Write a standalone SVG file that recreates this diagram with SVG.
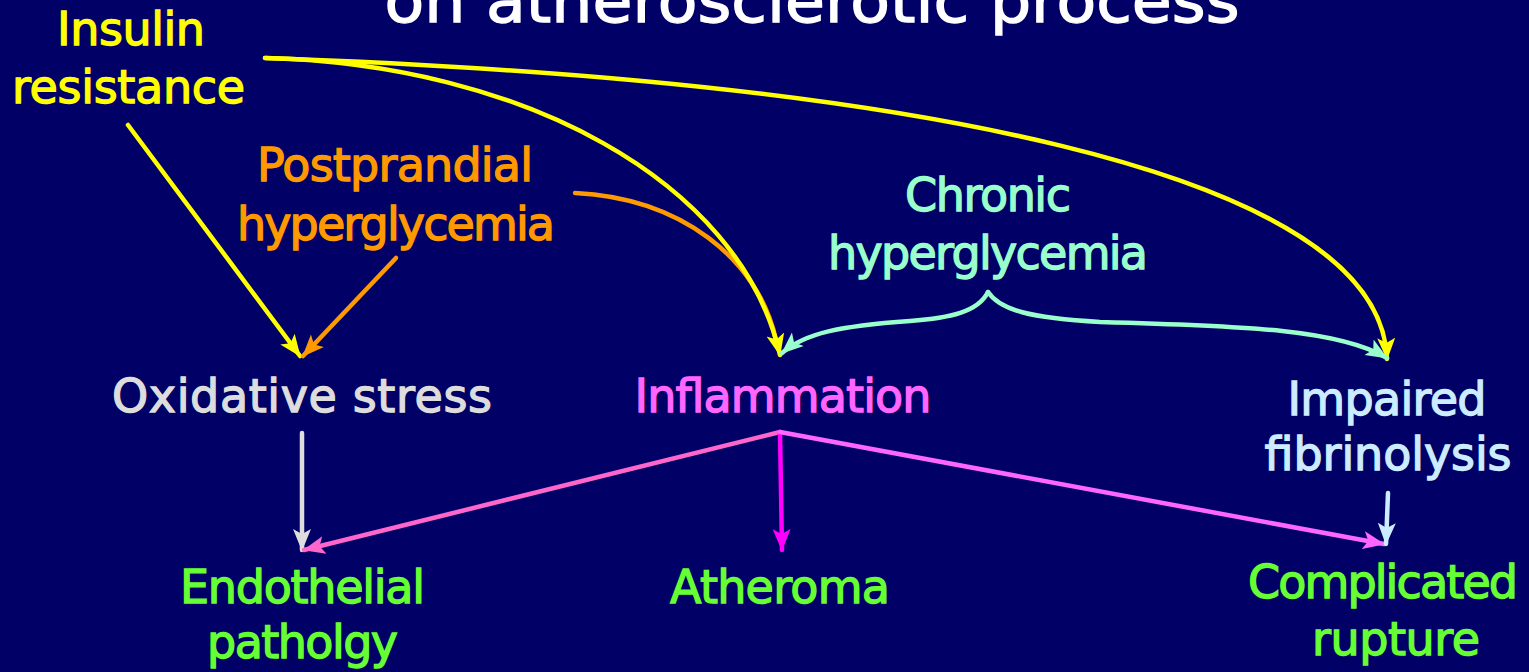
<svg xmlns="http://www.w3.org/2000/svg" width="1529" height="672" viewBox="0 0 1529 672">
<style>
text{font-family:"DejaVu Sans","Liberation Sans",sans-serif;font-size:46px;text-anchor:middle;stroke-width:1.3px;paint-order:stroke}
.title{font-size:60px;fill:#FFFFFF;stroke:#FFFFFF}
.yel{fill:#FFFF00;stroke:#FFFF00}.org{fill:#FF9900;stroke:#FF9900}.aq{fill:#99FFCC;stroke:#99FFCC}.gry{fill:#DDDDDD;stroke:#DDDDDD}.mag{fill:#FF66FF;stroke:#FF66FF}.lb{fill:#CCECFF;stroke:#CCECFF}.grn{fill:#66FF33;stroke:#66FF33}
.c{fill:none;stroke-width:4.5;stroke-linecap:round}
</style>
<defs>
<marker id="aY" markerUnits="userSpaceOnUse" markerWidth="24" markerHeight="20" refX="21" refY="10" orient="auto"><path d="M0,1 L22,10 L0,19 L5,10 Z" fill="#FFFF00"/></marker>
<marker id="aO" markerUnits="userSpaceOnUse" markerWidth="24" markerHeight="20" refX="21" refY="10" orient="auto"><path d="M0,1 L22,10 L0,19 L5,10 Z" fill="#FF9900"/></marker>
<marker id="aA" markerUnits="userSpaceOnUse" markerWidth="24" markerHeight="20" refX="21" refY="10" orient="auto"><path d="M0,1 L22,10 L0,19 L5,10 Z" fill="#99FFCC"/></marker>
<marker id="aG" markerUnits="userSpaceOnUse" markerWidth="24" markerHeight="20" refX="21" refY="10" orient="auto"><path d="M0,1 L22,10 L0,19 L5,10 Z" fill="#DDDDDD"/></marker>
<marker id="aP" markerUnits="userSpaceOnUse" markerWidth="24" markerHeight="20" refX="21" refY="10" orient="auto"><path d="M0,1 L22,10 L0,19 L5,10 Z" fill="#FF66CC"/></marker>
<marker id="aM" markerUnits="userSpaceOnUse" markerWidth="24" markerHeight="20" refX="21" refY="10" orient="auto"><path d="M0,1 L22,10 L0,19 L5,10 Z" fill="#FF00FF"/></marker>
<marker id="aM2" markerUnits="userSpaceOnUse" markerWidth="24" markerHeight="20" refX="21" refY="10" orient="auto"><path d="M0,1 L22,10 L0,19 L5,10 Z" fill="#FF66FF"/></marker>
<marker id="aB" markerUnits="userSpaceOnUse" markerWidth="24" markerHeight="20" refX="21" refY="10" orient="auto"><path d="M0,1 L22,10 L0,19 L5,10 Z" fill="#CCECFF"/></marker>
</defs>
<rect width="1529" height="672" fill="#000066"/>
<text class="title" x="812" y="22" textLength="855" lengthAdjust="spacingAndGlyphs">on atherosclerotic process</text>

<g id="connectors">
<path class="c" stroke="#FFFF00" d="M128,125 L300,356" marker-end="url(#aY)"/>
<path class="c" stroke="#FF9900" d="M396,258 L303,356" marker-end="url(#aO)"/>
<path class="c" stroke="#FF9900" d="M575,193 C680,198 758,258 776,340"/>
<path class="c" stroke="#FFFF00" d="M265,58 C520,64 740,180 780,355" marker-end="url(#aY)"/>
<path class="c" stroke="#FFFF00" d="M265,58 C900,80 1380,170 1387,359" marker-end="url(#aY)"/>
<path class="c" stroke="#99FFCC" d="M988,292 C978,312 950,318 910,321 C840,326 805,333 782,353" marker-end="url(#aA)"/>
<path class="c" stroke="#99FFCC" d="M988,292 C1000,310 1030,318 1100,322 C1250,326 1340,330 1387,358" marker-end="url(#aA)"/>
<path class="c" stroke="#DDDDDD" d="M302,433 L302,550" marker-end="url(#aG)"/>
<path class="c" stroke="#FF66CC" d="M780,432 L304,550" marker-end="url(#aP)"/>
<path class="c" stroke="#FF00FF" d="M780,432 L782,550" marker-end="url(#aM)"/>
<path class="c" stroke="#FF66FF" d="M780,432 L1384,544" marker-end="url(#aM2)"/>
<path class="c" stroke="#CCECFF" d="M1388,493 L1386,544" marker-end="url(#aB)"/>
</g>

<g id="insulin"><text class="yel" x="131" y="45" textLength="148">Insulin</text><text class="yel" x="128.5" y="103" textLength="233">resistance</text></g>
<g id="postprandial"><text class="org" x="395" y="181" textLength="276">Postprandial</text><text class="org" x="396" y="240" textLength="318">hyperglycemia</text></g>
<g id="chronic"><text class="aq" x="988" y="211" textLength="166">Chronic</text><text class="aq" x="988" y="269" textLength="320">hyperglycemia</text></g>
<g id="oxidative"><text class="gry" x="302" y="412" textLength="380">Oxidative stress</text></g>
<g id="inflammation"><text class="mag" x="783" y="412" textLength="297">Inflammation</text></g>
<g id="fibrinolysis"><text class="lb" x="1387" y="415" textLength="199">Impaired</text><text class="lb" x="1388" y="470" textLength="247">fibrinolysis</text></g>
<g id="endothelial"><text class="grn" x="302.5" y="603" textLength="245">Endothelial</text><text class="grn" x="302.5" y="658" textLength="191">patholgy</text></g>
<g id="atheroma"><text class="grn" x="780" y="603" textLength="220">Atheroma</text></g>
<g id="rupture"><text class="grn" x="1383" y="598" textLength="270">Complicated</text><text class="grn" x="1396" y="655" textLength="168">rupture</text></g>
</svg>
